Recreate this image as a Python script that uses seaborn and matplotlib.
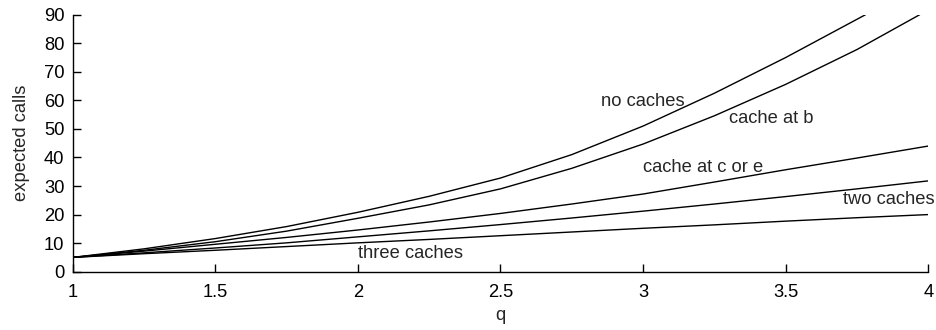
import matplotlib
matplotlib.use("Agg")
import matplotlib.pyplot as plt
import seaborn as sns

# values
q_full = [1.0, 1.25, 1.5, 1.75, 2.0, 2.25, 2.5, 2.75, 3.0, 3.25, 3.5, 3.75, 4.0]

q_no_caches = [1.0, 1.25, 1.5, 1.75, 2.0, 2.25, 2.5, 2.75, 3.0, 3.25, 3.5, 3.78]
no_caches = [5, 8.0, 11.6, 15.8, 20.8, 26.4, 32.8, 41.0, 51.0, 62.5, 75.0, 90]

q_cache_b = [1.0, 1.25, 1.5, 1.75, 2.0, 2.25, 2.5, 2.75, 3.0, 3.25, 3.5, 3.75, 3.97]
cache_b = [5, 7.5, 10.5, 14.2, 18.7, 23.4, 29.0, 36.2, 44.7, 54.6, 65.6, 77.8, 90]

cache_c_or_e = [5, 7.2, 9.6, 12.0, 14.6, 17.4, 20.4, 23.7, 27.2, 31.4, 35.7, 39.8, 44.0]
two_caches = [5, 6.6, 8.3, 10.1, 12.2, 14.3, 16.5, 18.8, 21.2, 23.7, 26.3, 29.0, 31.8]
three_caches = [5, 6.3, 7.5, 8.8, 10.1, 11.3, 12.6, 13.9, 15.2, 16.4, 17.7, 18.9, 20.0]

labels = ["no caches", "cache at b", "cache at c or e", "two caches", "three caches"]
label_q = [2.851, 3.302, 3.0, 3.701, 2.0]
label_y = [59.5, 53.7, 36.4, 25.3, 6.2]

sns.set_style("ticks")
plt.rcParams['font.family'] = ['Liberation Sans', 'DejaVu Sans']

fig = plt.figure(figsize=(9.37, 3.30), dpi=100)
ax = fig.add_axes([0.0776, 0.1767, 0.9131, 0.7788])

series = [
    (q_no_caches, no_caches),
    (q_cache_b, cache_b),
    (q_full, cache_c_or_e),
    (q_full, two_caches),
    (q_full, three_caches),
]
for xs, ys in series:
    sns.lineplot(x=xs, y=ys, ax=ax, color='black', linewidth=1.0)

fs = 13.2
for text, tx, ty in zip(labels, label_q, label_y):
    ax.text(tx, ty, text, ha='left', va='center', fontsize=fs)

ax.set_xlim(1, 4)
ax.set_ylim(0, 90)
ax.set_xticks([1, 1.5, 2, 2.5, 3, 3.5, 4])
ax.set_xticklabels(['1', '1.5', '2', '2.5', '3', '3.5', '4'])
ax.set_yticks(range(0, 91, 10))
ax.tick_params(direction='in', length=6, width=1, labelsize=fs, colors='black', pad=6)
ax.tick_params(axis='x', pad=9)
ax.set_xlabel('q', fontsize=fs, va='center')
ax.xaxis.set_label_coords(0.5, -0.172)
ax.set_ylabel('expected calls', fontsize=fs)
ax.yaxis.set_label_coords(-0.05, 0.5)
sns.despine(ax=ax)
for s in ['left', 'bottom']:
    ax.spines[s].set_linewidth(1.0)
    ax.spines[s].set_color('black')

fig.savefig('out.png', dpi=100)
